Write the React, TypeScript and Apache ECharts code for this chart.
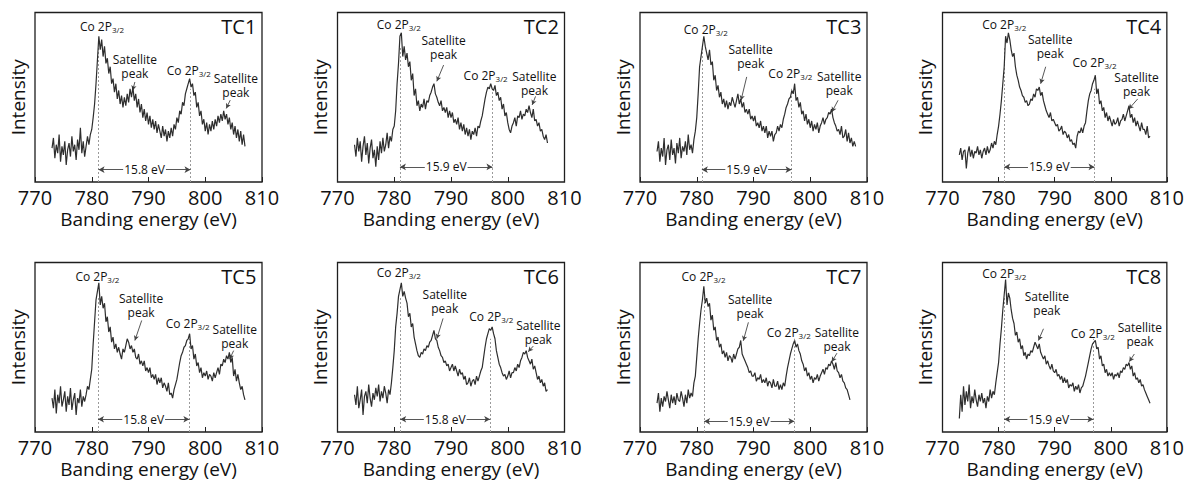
import React, { useEffect, useRef } from "react";
import * as echarts from "echarts";

// Binding energy sample positions (eV)
const energies = [
  773, 773.25, 773.5, 773.75, 774, 774.25, 774.5, 774.75, 775, 775.25, 775.5, 775.75,
  776, 776.25, 776.5, 776.75, 777, 777.25, 777.5, 777.75, 778, 778.25, 778.5, 778.75,
  779, 779.25, 779.5, 779.75, 780, 780.25, 780.5, 780.75, 781, 781.25, 781.5, 781.75,
  782, 782.25, 782.5, 782.75, 783, 783.25, 783.5, 783.75, 784, 784.25, 784.5, 784.75,
  785, 785.25, 785.5, 785.75, 786, 786.25, 786.5, 786.75, 787, 787.25, 787.5, 787.75,
  788, 788.25, 788.5, 788.75, 789, 789.25, 789.5, 789.75, 790, 790.25, 790.5, 790.75,
  791, 791.25, 791.5, 791.75, 792, 792.25, 792.5, 792.75, 793, 793.25, 793.5, 793.75,
  794, 794.25, 794.5, 794.75, 795, 795.25, 795.5, 795.75, 796, 796.25, 796.5, 796.75,
  797, 797.25, 797.5, 797.75, 798, 798.25, 798.5, 798.75, 799, 799.25, 799.5, 799.75,
  800, 800.25, 800.5, 800.75, 801, 801.25, 801.5, 801.75, 802, 802.25, 802.5, 802.75,
  803, 803.25, 803.5, 803.75, 804, 804.25, 804.5, 804.75, 805, 805.25, 805.5, 805.75,
  806, 806.25, 806.5, 806.75, 807, 807.25, 807.5, 807.75, 808,
];

const tc1 = [
  20, 26, 14, 22, 17, 28, 12, 21, 16, 24, 10, 19, 23, 15, 27, 18, 22, 13, 25, 19,
  32, 17, 24, 15, 21, 27, 22, 28, 31, 38, 46, 58, 72, 86, 78, 84, 74, 80, 70, 73,
  64, 68, 58, 61, 53, 58, 49, 54, 46, 51, 44, 50, 45, 52, 47, 55, 50, 56, 48, 52,
  44, 49, 41, 46, 38, 43, 36, 41, 34, 39, 32, 37, 31, 36, 29, 34, 30, 26, 33, 27,
  31, 24, 30, 26, 32, 27, 34, 31, 38, 35, 42, 40, 47, 45, 52, 55, 58, 61, 56, 58,
  51, 53, 44, 47, 39, 42, 34, 37, 30, 35, 28, 34, 30, 36, 31, 37, 33, 39, 35, 40,
  36, 42, 37, 40, 34, 38, 31, 35, 28, 33, 26, 31, 24, 30, 22, 28, 21,
];
const tc2 = [
  22, 15, 26, 18, 24, 12, 21, 27, 16, 23, 11, 20, 25, 14, 19, 9, 21, 13, 24, 17,
  26, 18, 22, 29, 20, 27, 24, 31, 33, 42, 58, 70, 86, 88, 74, 80, 72, 76, 68, 71,
  60, 64, 51, 55, 45, 48, 42, 46, 44, 49, 43, 48, 47, 51, 53, 56, 58, 52, 50, 47,
  45, 48, 42, 44, 41, 44, 38, 42, 38, 41, 35, 37, 34, 38, 31, 35, 30, 34, 28, 32,
  27, 31, 25, 30, 28, 32, 27, 33, 32, 36, 39, 44, 49, 53, 56, 55, 58, 55, 54, 57,
  51, 53, 48, 50, 43, 46, 39, 41, 35, 31, 29, 33, 35, 38, 33, 39, 38, 42, 37, 40,
  39, 43, 41, 45, 41, 38, 43, 36, 37, 33, 35, 30, 31, 27, 25, 28, 23,
];
const tc3 = [
  18, 24, 12, 20, 15, 26, 10, 19, 22, 13, 25, 16, 20, 11, 23, 17, 26, 14, 21, 18,
  24, 16, 28, 19, 22, 17, 25, 30, 38, 52, 68, 74, 80, 86, 80, 76, 72, 78, 69, 71,
  60, 63, 54, 57, 50, 53, 46, 49, 44, 48, 43, 47, 45, 50, 47, 44, 48, 52, 46, 49,
  44, 47, 41, 43, 40, 43, 37, 39, 36, 39, 33, 35, 32, 36, 30, 33, 29, 33, 26, 30,
  27, 30, 24, 28, 29, 33, 30, 34, 32, 37, 40, 44, 46, 49, 50, 54, 52, 58, 48, 50,
  44, 47, 40, 42, 36, 40, 34, 37, 32, 36, 30, 34, 31, 35, 29, 33, 35, 38, 34, 37,
  38, 41, 40, 43, 38, 35, 33, 30, 31, 28, 33, 26, 27, 31, 24, 29, 23, 26, 21, 24,
  21,
];
const tc4 = [
  16, 20, 13, 18, 19, 8, 17, 21, 15, 19, 14, 18, 17, 21, 16, 19, 14, 18, 20, 16,
  21, 17, 19, 23, 20, 24, 22, 28, 33, 40, 48, 58, 68, 86, 82, 88, 84, 78, 74, 76,
  68, 63, 60, 56, 54, 51, 50, 47, 48, 45, 46, 49, 48, 52, 50, 55, 54, 56, 51, 53,
  48, 45, 42, 40, 38, 41, 36, 37, 35, 33, 34, 30, 31, 33, 28, 30, 29, 26, 28, 24,
  25, 22, 23, 20, 27, 30, 29, 32, 29, 33, 35, 42, 48, 52, 54, 58, 60, 63, 52, 55,
  46, 48, 42, 44, 38, 41, 36, 39, 36, 33, 37, 34, 35, 38, 33, 36, 37, 40, 36, 39,
  42, 45, 38, 40, 35, 38, 33, 36, 33, 30, 35, 31, 31, 28, 33, 26, 27,
];
const tc5 = [
  20, 14, 25, 11, 22, 17, 27, 15, 19, 24, 12, 21, 16, 26, 13, 19, 23, 10, 20, 17,
  25, 15, 21, 18, 22, 27, 25, 31, 37, 52, 65, 78, 83, 88, 75, 80, 73, 76, 65, 68,
  59, 62, 53, 56, 49, 52, 47, 50, 46, 43, 49, 47, 51, 55, 53, 49, 51, 47, 49, 44,
  43, 46, 40, 42, 39, 42, 36, 38, 35, 38, 32, 34, 31, 34, 28, 32, 29, 32, 26, 29,
  27, 24, 29, 22, 23, 20, 25, 28, 31, 36, 41, 45, 47, 50, 51, 54, 55, 58, 49, 51,
  43, 46, 39, 41, 35, 38, 32, 35, 33, 36, 31, 34, 33, 30, 35, 32, 35, 38, 34, 40,
  39, 43, 41, 45, 43, 47, 41, 44, 33, 37, 30, 34, 29, 25, 27, 22, 19,
];
const tc6 = [
  22, 16, 27, 14, 19, 25, 10, 21, 24, 17, 28, 20, 15, 23, 19, 26, 21, 28, 18, 24,
  20, 27, 23, 17, 25, 22, 29, 38, 48, 62, 70, 80, 84, 88, 80, 83, 79, 76, 68, 70,
  62, 64, 56, 52, 48, 45, 44, 47, 46, 49, 48, 51, 50, 53, 54, 57, 60, 55, 54, 50,
  48, 45, 44, 41, 42, 39, 40, 36, 38, 40, 36, 39, 36, 33, 37, 34, 35, 31, 33, 28,
  29, 32, 27, 30, 31, 28, 33, 30, 33, 36, 38, 44, 50, 55, 58, 61, 60, 62, 58, 55,
  48, 44, 40, 38, 35, 33, 34, 31, 33, 36, 32, 35, 35, 38, 36, 40, 38, 42, 44, 47,
  46, 48, 44, 42, 40, 43, 37, 39, 35, 31, 33, 29, 31, 27, 29, 24, 25,
];
const tc7 = [
  17, 23, 12, 20, 15, 21, 18, 24, 19, 14, 22, 17, 21, 16, 23, 19, 18, 24, 20, 15,
  22, 17, 25, 20, 23, 21, 29, 33, 44, 55, 64, 72, 78, 86, 76, 79, 74, 76, 66, 69,
  60, 62, 54, 56, 50, 52, 46, 48, 44, 47, 42, 45, 44, 41, 46, 43, 46, 49, 50, 54,
  46, 44, 42, 40, 38, 35, 36, 33, 33, 35, 30, 32, 31, 34, 29, 31, 29, 32, 27, 30,
  29, 26, 31, 27, 27, 30, 25, 28, 25, 29, 27, 33, 38, 42, 46, 49, 52, 54, 50, 52,
  48, 46, 42, 40, 36, 38, 33, 35, 31, 33, 29, 32, 31, 34, 30, 33, 35, 37, 34, 38,
  37, 40, 39, 42, 40, 37, 41, 36, 35, 32, 34, 30, 29, 26, 25, 22, 19,
];
const tc8 = [
  8, 22, 12, 27, 16, 24, 18, 28, 14, 21, 17, 25, 19, 15, 22, 18, 23, 17, 20, 14,
  21, 18, 25, 20, 24, 22, 29, 35, 41, 52, 61, 72, 81, 90, 75, 82, 79, 72, 67, 64,
  57, 59, 53, 55, 49, 51, 45, 47, 43, 46, 45, 48, 47, 50, 53, 51, 49, 52, 47, 45,
  43, 45, 40, 42, 39, 37, 40, 36, 35, 37, 33, 34, 31, 33, 29, 32, 29, 31, 26, 28,
  27, 29, 24, 27, 25, 28, 23, 26, 27, 30, 33, 37, 41, 45, 49, 52, 53, 54, 49, 50,
  43, 45, 39, 40, 35, 37, 33, 35, 33, 35, 31, 34, 33, 35, 32, 36, 35, 38, 37, 40,
  39, 41, 37, 39, 33, 35, 31, 32, 29, 31, 27, 28, 25, 23, 21, 19, 17,
];

const panelNames = ["TC1", "TC2", "TC3", "TC4", "TC5", "TC6", "TC7", "TC8"];
const spectra = [tc1, tc2, tc3, tc4, tc5, tc6, tc7, tc8];
const splitLabels = ["15.8 eV", "15.9 eV", "15.9 eV", "15.9 eV", "15.8 eV", "15.8 eV", "15.9 eV", "15.9 eV"];
const peak1Pos = [781.2, 781.0, 780.9, 781.0, 781.1, 781.05, 781.3, 781.0];
const peak2Pos = [797.4, 797.3, 796.7, 797.1, 797.2, 796.9, 797.2, 796.9];

// Annotation anchors in data units (eV, relative intensity)
const co1Anchor = [[781.8, 91.7], [780.8, 93], [781.6, 90], [781.0, 92.7], [781.0, 91.9], [780.8, 94], [781.2, 91.7], [781.0, 93.5]];
const sat1Anchor = [[787.6, 68], [788.7, 79.5], [789.5, 73.8], [789.2, 79.9], [788.7, 74.9], [788.9, 77], [789.4, 74], [788.6, 75.7]];
const sat1Arrow = [
  [787.6, 59, 787.2, 54], [788.7, 69, 787.5, 59.4], [788.8, 62, 787.8, 48.2], [788.4, 68, 787.5, 58],
  [788.8, 65.8, 787.6, 54], [788.6, 67, 787.5, 55], [789.1, 64.7, 788.2, 53.8], [788.0, 60.9, 787.1, 54],
];
const co2Anchor = [[797.1, 66], [796.1, 62.8], [796.5, 64], [797.1, 70.4], [796.9, 63.8], [797.1, 68], [796.2, 58.8], [796.8, 58.3]];
const sat2Anchor = [[805.4, 57], [804.7, 58], [805.1, 58], [804.6, 57.8], [805.2, 56.5], [805.4, 58.8], [804.7, 54.8], [805.2, 57.7]];
const sat2Arrow = [
  [804.4, 48.3, 803.7, 43.4], [804.9, 50.5, 804.3, 45.5], [804.9, 48.2, 803.8, 41.3], [804.8, 49, 803.2, 43],
  [805.0, 48, 804.3, 43], [804.5, 50.7, 803.6, 47.3], [804.7, 46.5, 803.8, 41.4], [804.2, 46, 803.3, 41.5],
];
const dimLevel = [7.3, 8.9, 7.3, 8.9, 7.5, 7.5, 6.3, 7.5];

const FONT = "'Open Sans', sans-serif";
const colLeft = [35, 337.5, 640, 942.5];
const rowTop = [12.5, 262.5];
const gridW = 227;
const gridH = 169.5;

function buildOption() {
  const grid: any[] = [];
  const xAxis: any[] = [];
  const yAxis: any[] = [];
  const series: any[] = [];

  for (let i = 0; i < 8; i++) {
    const col = i % 4;
    const row = Math.floor(i / 4);
    grid.push({
      left: colLeft[col],
      top: rowTop[row],
      width: gridW,
      height: gridH,
      show: true,
      borderColor: "#1e1e1e",
      borderWidth: 1.3,
      backgroundColor: "transparent",
      containLabel: false,
    });
    xAxis.push({
      type: "value",
      gridIndex: i,
      min: 770,
      max: 810,
      interval: 10,
      name: "Banding energy (eV)",
      nameLocation: "middle",
      nameGap: 27,
      nameTextStyle: { fontFamily: FONT, fontSize: 19, color: "#111" },
      axisLine: { show: false },
      axisTick: { show: true, inside: true, length: 5, lineStyle: { color: "#222", width: 1 } },
      axisLabel: { show: true, margin: 5, fontFamily: FONT, fontSize: 20, color: "#111" },
      splitLine: { show: false },
    });
    yAxis.push({
      type: "value",
      gridIndex: i,
      min: 0,
      max: 100,
      name: "Intensity",
      nameLocation: "middle",
      nameGap: 8,
      nameRotate: 90,
      nameTextStyle: { fontFamily: FONT, fontSize: 19, color: "#111" },
      axisLine: { show: false },
      axisTick: { show: false },
      axisLabel: { show: false },
      splitLine: { show: false },
    });

    const vals = spectra[i];
    const p1 = peak1Pos[i];
    const p2 = peak2Pos[i];
    const dy = dimLevel[i];
    const a1 = sat1Arrow[i];
    const a2 = sat2Arrow[i];

    const dashStyle = { color: "#9a9a9a", type: [2, 2], width: 1 };
    const arrowStyle = { color: "#444", type: "solid", width: 0.9 };

    const coLabel = {
      show: true,
      position: "inside",
      formatter: "{a|Co 2P}{b|3/2}",
      rich: {
        a: { fontFamily: FONT, fontSize: 12, lineHeight: 14, color: "#111" },
        b: { fontFamily: FONT, fontSize: 8, lineHeight: 8, color: "#111", verticalAlign: "bottom" },
      },
    };
    const satLabel = {
      show: true,
      position: "inside",
      formatter: "Satellite\npeak",
      fontFamily: FONT,
      fontSize: 12,
      lineHeight: 14,
      align: "center",
      color: "#111",
    };

    series.push({
      type: "line",
      xAxisIndex: i,
      yAxisIndex: i,
      data: vals.map((v, j) => [energies[j], v]),
      symbol: "none",
      showSymbol: false,
      lineStyle: { color: "#2e2e2e", width: 1.2 },
      silent: true,
      z: 3,
      markLine: {
        silent: true,
        z: 1,
        symbol: "none",
        label: { show: false },
        emphasis: { disabled: true },
        data: [
          [
            { coord: [p1, 0], lineStyle: dashStyle },
            { coord: [p1, 80] },
          ],
          [
            { coord: [p2, 0], lineStyle: dashStyle },
            { coord: [p2, 55] },
          ],
          [
            { coord: [p1, dy], symbol: "arrow", symbolSize: [5, 6], lineStyle: arrowStyle },
            { coord: [p2, dy], symbol: "arrow", symbolSize: [5, 6] },
          ],
          [
            { coord: [a1[0], a1[1]], symbol: "none", lineStyle: arrowStyle },
            { coord: [a1[2], a1[3]], symbol: "arrow", symbolSize: [4, 5] },
          ],
          [
            { coord: [a2[0], a2[1]], symbol: "none", lineStyle: arrowStyle },
            { coord: [a2[2], a2[3]], symbol: "arrow", symbolSize: [4, 5] },
          ],
        ],
      },
      markPoint: {
        silent: true,
        z: 6,
        symbol: "circle",
        symbolSize: 0,
        itemStyle: { color: "transparent" },
        data: [
          { coord: co1Anchor[i], label: coLabel },
          { coord: co2Anchor[i], label: coLabel },
          { coord: sat1Anchor[i], label: satLabel },
          { coord: sat2Anchor[i], label: satLabel },
          {
            coord: [(p1 + p2) / 2, dy],
            label: {
              show: true,
              position: "inside",
              formatter: splitLabels[i],
              fontFamily: FONT,
              fontSize: 12,
              color: "#111",
              backgroundColor: "#fff",
              padding: [0, 1],
            },
          },
          {
            coord: [809, 91.5],
            label: {
              show: true,
              position: "left",
              distance: 0,
              formatter: panelNames[i],
              fontFamily: FONT,
              fontSize: 20,
              color: "#111",
            },
          },
        ],
      },
    });
  }

  return {
    animation: false,
    backgroundColor: "#ffffff",
    grid,
    xAxis,
    yAxis,
    series,
  };
}

export default function App() {
  const ref = useRef<HTMLDivElement>(null);
  useEffect(() => {
    if (!ref.current) return;
    const chart = echarts.init(ref.current, undefined, { renderer: "svg" });
    chart.setOption(buildOption() as any);
    return () => {
      chart.dispose();
    };
  }, []);
  return (
    <div
      ref={ref}
      style={{ position: "absolute", left: 0, top: 0, width: 1187, height: 480, background: "#fff" }}
    />
  );
}
